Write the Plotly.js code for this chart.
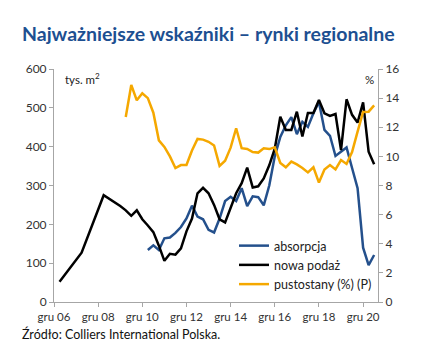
<!DOCTYPE html>
<html>
<head>
<meta charset="utf-8">
<script src="https://cdn.plot.ly/plotly-3.0.1.min.js"></script>
<style>html,body{margin:0;padding:0;background:#fff;}#chart{width:421px;height:354px;}</style>
</head>
<body>
<div id="chart"></div>
<script>
// quarter index: 0 = gru 06 (Q4 2006)
const tickQuarters = [0, 8, 16, 24, 32, 40, 48, 56];
const tickLabels = ["gru 06", "gru 08", "gru 10", "gru 12", "gru 14", "gru 16", "gru 18", "gru 20"];

const supplyQuarters = [1, 5, 9, 10, 11, 12, 13, 14, 15, 16, 17, 18, 19, 20, 21, 22, 23, 24, 25, 26, 27, 28, 29, 30, 31, 32, 33, 34, 35, 36, 37, 38, 39, 40, 41, 42, 43, 44, 45, 46, 47, 48, 49, 50, 51, 52, 53, 54, 55, 56, 57, 58];
const supply = [52, 127, 275, 266, 258, 247, 236, 222, 236, 213, 197, 180, 145, 106, 124, 122, 138, 182, 215, 280, 294, 280, 250, 213, 205, 240, 280, 306, 346, 295, 298, 318, 352, 395, 477, 443, 443, 490, 426, 487, 487, 520, 486, 479, 484, 391, 522, 482, 462, 514, 387, 355];

const absorptionQuarters = [17, 18, 19, 20, 21, 22, 23, 24, 25, 26, 27, 28, 29, 30, 31, 32, 33, 34, 35, 36, 37, 38, 39, 40, 41, 42, 43, 44, 45, 46, 47, 48, 49, 50, 51, 52, 53, 54, 55, 56, 57, 58];
const absorption = [134, 146, 134, 164, 166, 178, 193, 215, 248, 220, 213, 186, 179, 215, 260, 271, 260, 293, 247, 272, 270, 249, 300, 375, 425, 455, 476, 432, 464, 451, 486, 515, 443, 428, 376, 388, 398, 345, 293, 140, 95, 121];

const vacancyQuarters = [13, 14, 15, 16, 17, 18, 19, 20, 21, 22, 23, 24, 25, 26, 27, 28, 29, 30, 31, 32, 33, 34, 35, 36, 37, 38, 39, 40, 41, 42, 43, 44, 45, 46, 47, 48, 49, 50, 51, 52, 53, 54, 55, 56, 57, 58];
const vacancy = [12.7, 14.9, 13.85, 14.33, 14.0, 13.0, 11.1, 10.65, 10.0, 9.2, 9.4, 9.41, 10.4, 11.2, 11.15, 11.0, 10.75, 9.35, 9.7, 10.6, 11.93, 10.56, 10.51, 10.3, 10.26, 10.56, 10.5, 10.62, 9.55, 9.25, 9.64, 9.45, 9.2, 8.9, 9.25, 8.2, 9.1, 9.4, 9.1, 9.75, 9.48, 10.3, 11.7, 13.05, 13.07, 13.5];

const FONT = "Lato, 'Noto Sans', sans-serif";
const AX = "#a6a6a6";

const traces = [
  {x: absorptionQuarters, y: absorption, name: "absorpcja", type: "scatter", mode: "lines",
   line: {color: "#24508c", width: 2.5}},
  {x: supplyQuarters, y: supply, name: "nowa podaż", type: "scatter", mode: "lines",
   line: {color: "#000000", width: 2.5}},
  {x: vacancyQuarters, y: vacancy, name: "pustostany (%) (P)", type: "scatter", mode: "lines",
   yaxis: "y2", line: {color: "#f5a800", width: 2.5}}
];

const layout = {
  width: 421, height: 354,
  margin: {l: 54, r: 43, t: 69, b: 52},
  paper_bgcolor: "#fff", plot_bgcolor: "#fff",
  font: {family: FONT, size: 11.5, color: "#333"},
  showlegend: true,
  title: {text: "Najważniejsze wskaźniki – rynki regionalne", x: 22/421, xanchor: "left", xref: "container",
          y: 1 - 34/354, yanchor: "middle", yref: "container",
          font: {family: FONT, size: 19.5, color: "#1d4f91", weight: 700}},
  xaxis: {range: [0, 58.7], tickvals: tickQuarters, ticktext: tickLabels, showgrid: false, zeroline: false,
          showline: true, linecolor: AX, linewidth: 1, ticks: "outside", ticklen: 4, tickcolor: AX,
          tickfont: {size: 11.5, color: "#333"}, fixedrange: true},
  yaxis: {range: [0, 600], dtick: 100, showgrid: false, zeroline: false, showline: true, linecolor: AX,
          linewidth: 1, ticks: "outside", ticklen: 4, tickcolor: AX, tickfont: {size: 12, color: "#333"}},
  yaxis2: {range: [0, 16], dtick: 2, overlaying: "y", side: "right", showgrid: false, zeroline: false,
           showline: true, linecolor: AX, linewidth: 1, ticks: "outside", ticklen: 4, tickcolor: AX,
           tickfont: {size: 12, color: "#333"}},
  legend: {x: (234 - 54) / 324, xanchor: "left", y: (302 - 231) / 233, yanchor: "top",
           bgcolor: "rgba(0,0,0,0)", borderwidth: 0, itemwidth: 30,
           font: {family: FONT, size: 12.5, color: "#222"}, tracegroupgap: 0},
  annotations: [
    {text: "tys. m<sup>2</sup>", xref: "paper", yref: "paper", x: 9/324, y: (302 - 78) / 233,
     xanchor: "left", yanchor: "middle", showarrow: false, font: {size: 11.5, color: "#222"}},
    {text: "%", xref: "paper", yref: "paper", x: (369 - 54) / 324, y: (302 - 80) / 233,
     xanchor: "center", yanchor: "middle", showarrow: false, font: {size: 11.5, color: "#222"}},
    {text: "Źródło: Colliers International Polska.", xref: "paper", yref: "paper", x: -34/324,
     y: (302 - 334) / 233, xanchor: "left", yanchor: "middle", showarrow: false,
     font: {size: 12.5, color: "#111"}}
  ]
};

Plotly.newPlot("chart", traces, layout, {displayModeBar: false, staticPlot: true});
</script>
</body>
</html>
